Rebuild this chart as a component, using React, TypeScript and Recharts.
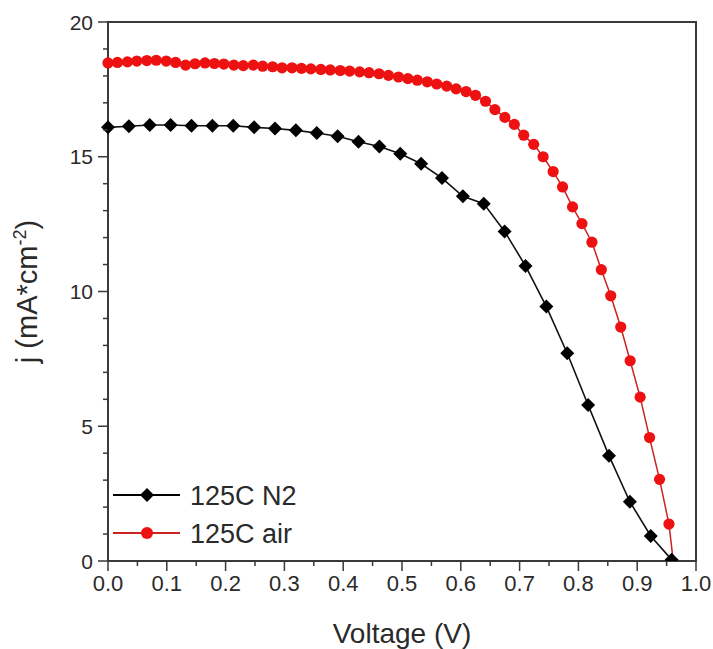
import React from "react";
import { LineChart, Line, XAxis, YAxis, ReferenceArea, Legend } from "recharts";

// N2 annealed cell (black diamonds)
const n2Voltage = [
  0.0, 0.0355, 0.071, 0.1065, 0.142, 0.1775, 0.213, 0.2485, 0.284, 0.3195,
  0.355, 0.3905, 0.426, 0.4615, 0.497, 0.5325, 0.568, 0.6035, 0.639, 0.6745,
  0.71, 0.7455, 0.781, 0.8165, 0.852, 0.8875, 0.923, 0.9585,
];
const n2Current = [
  16.09, 16.13, 16.18, 16.18, 16.15, 16.15, 16.15, 16.09, 16.05, 15.98,
  15.88, 15.76, 15.56, 15.38, 15.11, 14.74, 14.21, 13.53, 13.26, 12.23,
  10.95, 9.44, 7.71, 5.79, 3.91, 2.2, 0.93, 0.05,
];

// air annealed cell (red circles)
const airVoltage = [
  0.0, 0.016, 0.033, 0.049, 0.066, 0.082, 0.099, 0.115, 0.132, 0.148,
  0.165, 0.181, 0.197, 0.214, 0.23, 0.247, 0.263, 0.28, 0.296, 0.313,
  0.329, 0.345, 0.362, 0.378, 0.395, 0.411, 0.428, 0.444, 0.461, 0.477,
  0.494, 0.51, 0.526, 0.543, 0.559, 0.576, 0.592, 0.609, 0.625, 0.642,
  0.658, 0.675, 0.691, 0.707, 0.724, 0.74, 0.757, 0.773, 0.79, 0.806,
  0.823, 0.839, 0.855, 0.872, 0.888, 0.905, 0.921, 0.938, 0.954, 0.971,
];
const airCurrent = [
  18.48, 18.5, 18.52, 18.55, 18.57, 18.58, 18.55, 18.5, 18.4, 18.45,
  18.48, 18.46, 18.44, 18.4, 18.38, 18.4, 18.36, 18.34, 18.3, 18.3,
  18.28, 18.26, 18.24, 18.22, 18.2, 18.18, 18.15, 18.12, 18.08, 18.02,
  17.96, 17.9, 17.84, 17.78, 17.7, 17.62, 17.52, 17.42, 17.28, 17.06,
  16.75, 16.46, 16.2, 15.8, 15.46, 15.0, 14.45, 13.88, 13.14, 12.52,
  11.83, 10.81, 9.84, 8.68, 7.43, 6.08, 4.58, 3.03, 1.37, -1.8,
];

const xTicks = [
  0, 0.05, 0.1, 0.15, 0.2, 0.25, 0.3, 0.35, 0.4, 0.45, 0.5,
  0.55, 0.6, 0.65, 0.7, 0.75, 0.8, 0.85, 0.9, 0.95, 1.0,
];
const yTicks = [0, 1, 2, 3, 4, 5, 6, 7, 8, 9, 10, 11, 12, 13, 14, 15, 16, 17, 18, 19, 20];

const n2Data = n2Voltage.map((v, i) => ({ v, j: n2Current[i] }));
const airData = airVoltage.map((v, i) => ({ v, j: airCurrent[i] }));

const FONT = "'Liberation Sans', Arial, sans-serif";
const AXIS = "#3a3a3a";
const TEXT = "#2a2a2a";
const RED = "#ee1111";

const Diamond = ({ cx, cy, half = 7 }: any) => {
  if (cx == null || cy == null) return null;
  return (
    <polygon
      points={`${cx},${cy - half} ${cx + half},${cy} ${cx},${cy + half} ${cx - half},${cy}`}
      fill="#000"
    />
  );
};

const Circle = ({ cx, cy, radius = 5.6 }: any) => {
  if (cx == null || cy == null) return null;
  return <circle cx={cx} cy={cy} r={radius} fill={RED} />;
};

const XTick = ({ x, y, payload }: any) => {
  const major = Math.round(payload.value * 100) % 10 === 0;
  return (
    <g>
      <line x1={x} x2={x} y1={y} y2={y + (major ? 10 : 5)} stroke={AXIS} strokeWidth={1.5} />
      {major && (
        <text x={x} y={y + 13} dy="0.78em" textAnchor="middle" fontSize={22} fontFamily={FONT} fill={TEXT}>
          {payload.value.toFixed(1)}
        </text>
      )}
    </g>
  );
};

const YTick = ({ x, y, payload }: any) => {
  const major = payload.value % 5 === 0;
  return (
    <g>
      <line x1={x - (major ? 10 : 5)} x2={x} y1={y} y2={y} stroke={AXIS} strokeWidth={1.5} />
      {major && (
        <text x={x - 15} y={y} dy="0.36em" textAnchor="end" fontSize={21} fontFamily={FONT} fill={TEXT}>
          {payload.value}
        </text>
      )}
    </g>
  );
};

const YLabel = ({ viewBox }: any) => {
  const cy = viewBox ? viewBox.y + viewBox.height / 2 : 291;
  const cx = 37;
  return (
    <text
      x={cx}
      y={cy}
      transform={`rotate(-90 ${cx} ${cy})`}
      textAnchor="middle"
      fontSize={29}
      fontFamily={FONT}
      fill={TEXT}
    >
      j (mA*cm<tspan dy={-11} fontSize={18}>-2</tspan>
      <tspan dy={11}>)</tspan>
    </text>
  );
};

const LegendBox = () => (
  <svg width={240} height={80}>
    <line x1={3} x2={70} y1={17} y2={17} stroke="#000" strokeWidth={2} />
    <Diamond cx={37} cy={17} half={7} />
    <text x={80} y={17} dy="0.36em" fontSize={27} fontFamily={FONT} fill={TEXT}>125C N2</text>
    <line x1={3} x2={70} y1={55} y2={55} stroke="#cc2222" strokeWidth={2} />
    <Circle cx={37} cy={55} radius={6} />
    <text x={80} y={55} dy="0.36em" fontSize={27} fontFamily={FONT} fill={TEXT}>125C air</text>
  </svg>
);

export default function App() {
  return (
    <div style={{ position: "absolute", left: 0, top: 0, background: "#fff" }}>
      <LineChart width={713} height={649} margin={{ top: 22, right: 17, left: 48, bottom: 48 }}>
        <XAxis
          type="number"
          dataKey="v"
          domain={[0, 1]}
          ticks={xTicks}
          interval={0}
          tick={<XTick />}
          tickLine={false}
          tickSize={0}
          tickMargin={0}
          axisLine={false}
          height={40}
          label={{
            value: "Voltage (V)",
            position: "insideBottom",
            offset: -42,
            fontSize: 28,
            fontFamily: FONT,
            fill: TEXT,
          }}
        />
        <YAxis
          type="number"
          dataKey="j"
          domain={[0, 20]}
          allowDataOverflow
          ticks={yTicks}
          interval={0}
          tick={<YTick />}
          tickLine={false}
          tickSize={0}
          tickMargin={0}
          axisLine={false}
          width={60}
          label={<YLabel />}
        />
        <ReferenceArea
          x1={0}
          x2={1}
          y1={0}
          y2={20}
          fill="none"
          stroke={AXIS}
          strokeWidth={2}
          ifOverflow="visible"
        />
        <Line
          data={airData}
          dataKey="j"
          type="linear"
          stroke="#cc2222"
          strokeWidth={1.5}
          dot={<Circle />}
          activeDot={false}
          isAnimationActive={false}
        />
        <Line
          data={n2Data}
          dataKey="j"
          type="linear"
          stroke="#111"
          strokeWidth={1.6}
          dot={<Diamond />}
          activeDot={false}
          isAnimationActive={false}
        />
        <Legend
          layout="vertical"
          align="center"
          verticalAlign="middle"
          wrapperStyle={{ left: 110, top: 478, width: 240 }}
          content={<LegendBox />}
        />
      </LineChart>
    </div>
  );
}
